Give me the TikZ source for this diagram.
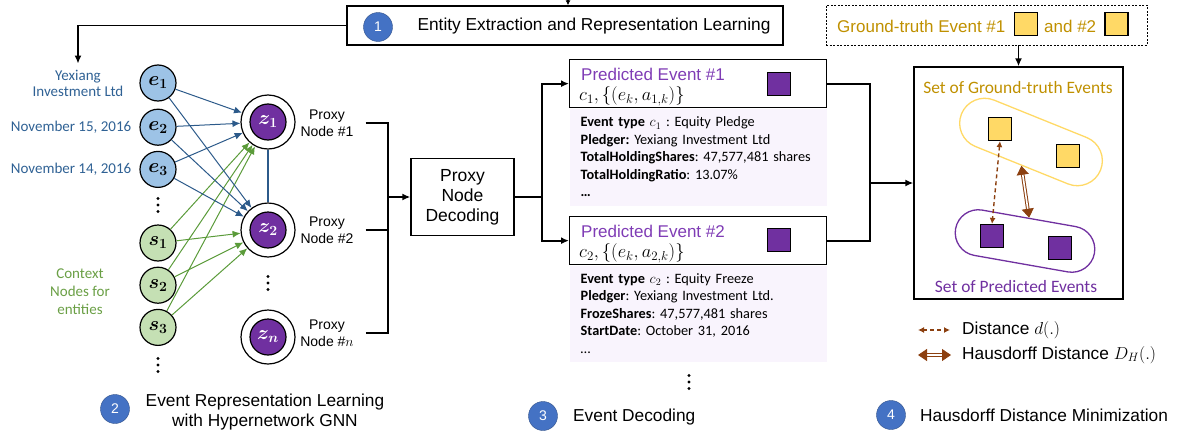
\RequirePackage{fix-cm}
\documentclass[tikz,border=0pt]{standalone}
\usepackage[no-math]{fontspec}
\usepackage{amsmath}
\setmainfont{Liberation Sans}
\newfontfamily\calibri{Carlito}
\usetikzlibrary{arrows.meta,positioning,calc,shapes}

\definecolor{entfill}{HTML}{9DC3E6}
\definecolor{entline}{HTML}{2C5A8A}
\definecolor{enttext}{HTML}{2F6194}
\definecolor{ctxfill}{HTML}{C5E0B4}
\definecolor{ctxline}{HTML}{5B9B3A}
\definecolor{ctxtext}{HTML}{6A9F45}
\definecolor{evpurple}{HTML}{7030A0}
\definecolor{evtitle}{HTML}{7F3CB5}
\definecolor{lavender}{HTML}{F9F4FD}
\definecolor{gtgold}{HTML}{BF9000}
\definecolor{gtyellow}{HTML}{FFD966}
\definecolor{distbrown}{HTML}{8C4010}
\definecolor{stepblue}{HTML}{4472C4}

\tikzset{
  entity/.style={circle, draw, line width=1.2pt, fill=entfill, minimum size=36pt, inner sep=0pt, font=\fontsize{20}{20}\selectfont\boldmath},
  context/.style={entity, fill=ctxfill},
  proxyring/.style={circle, draw, line width=1.2pt, fill=white, minimum size=54pt, inner sep=0pt},
  proxy/.style={circle, draw, line width=1.2pt, fill=evpurple, text=white, minimum size=36pt, inner sep=0pt, font=\fontsize{20}{20}\selectfont\boldmath},
  proxylabel/.style={align=center, inner xsep=12pt, font=\fontsize{14}{17}\selectfont},
  entlabel/.style={text=enttext, inner sep=0pt, align=center, font=\calibri\fontsize{15}{16}\selectfont},
  dots/.style={minimum width=4pt, minimum height=18pt, inner sep=0pt,
    path picture={\fill (path picture bounding box.center) circle (1.7pt) ++(0,6.5pt) circle (1.7pt) ++(0,-13pt) circle (1.7pt);}},
  entarrow/.style={entline, line width=1pt, -{Latex[length=8pt,width=7pt]}},
  ctxarrow/.style={ctxline, line width=1pt, -{Latex[length=8pt,width=7pt]}},
  conn/.style={line width=1.8pt},
  connarrow/.style={conn, -{Latex[length=8pt,width=7pt]}},
  stepnum/.style={circle, fill=stepblue, draw=stepblue!70!black, line width=0.4pt, text=white, minimum size=29pt, inner sep=0pt, font=\fontsize{14}{14}\selectfont},
  caption/.style={font=\fontsize{17.3}{20}\selectfont, align=center, inner sep=0pt},
  box/.style={draw, line width=1.3pt, inner sep=0pt},
  evsquare/.style={draw, line width=1.2pt, fill=evpurple, minimum size=23pt, inner sep=0pt},
  gtsquare/.style={evsquare, fill=gtyellow},
  evtext/.style={anchor=west, inner sep=0pt, font=\fontsize{17}{17}\selectfont},
  settext/.style={inner sep=0pt, font=\calibri\fontsize{17.4}{17.4}\selectfont},
  details/.style={fill=lavender, minimum width=257pt, text width=235pt, inner xsep=11pt, inner ysep=4pt, align=left, font=\calibri\fontsize{14.3}{17.5}\selectfont\frenchspacing},
  distarrow/.style={distbrown, line width=1.4pt, dash pattern=on 4pt off 3pt, {Latex[length=6pt,width=6pt]}-{Latex[length=6pt,width=6pt]}},
  hausarrow/.style={distbrown, line width=1pt, double=white, double distance=1.6pt, {Triangle[length=9pt,width=12pt]}-{Triangle[length=9pt,width=12pt]}},
}

\begin{document}
\begin{tikzpicture}[x=1pt,y=-1pt]
    \useasboundingbox (0,0) rectangle (1177,431);

    % step 1
    \node[box, minimum width=436pt, minimum height=39pt] (extract) at (565,25.5) {};
    \node[stepnum] (num1) at (378,27) {1};
    \node[caption] (extracttext) at (594,26) {Entity Extraction and Representation Learning};
    \coordinate (topin) at (568,0);
    \draw[line width=1.2pt, -{Latex[length=5pt,width=5pt]}] (topin) -- (topin |- extract.north);

    % entities and context nodes
    \node[entity] (e1) at (158,83) {$e_1$};
    \node[entity, below=7pt of e1] (e2) {$e_2$};
    \node[entity, below=5pt of e2] (e3) {$e_3$};
    \node[dots] (edots) at (158,205) {};
    \node[context] (s1) at (158,243) {$s_1$};
    \node[context, below=5pt of s1] (s2) {$s_2$};
    \node[context, below=5pt of s2] (s3) {$s_3$};
    \node[dots] (sdots) at (158,365) {};

    \node[entlabel] (lab1) at (78,83) {Yexiang\\Investment Ltd};
    \node[entlabel, left=8pt of e2] (lab2) {November 15, 2016};
    \node[entlabel, left=8pt of e3] (lab3) {November 14, 2016};
    \node[entlabel, text=ctxtext, font=\calibri\fontsize{15}{18}\selectfont] (ctxlab) at (80,292) {Context\\Nodes for\\entities};
    \draw[connarrow] (extract.west) -| ([yshift=6pt]lab1.north);

    % proxy nodes
    \node[proxyring] (z1) at (268,122) {};
    \node[proxy] (z1in) at (z1) {$z_1$};
    \node[proxyring] (z2) at (268,230) {};
    \node[proxy] (z2in) at (z2) {$z_2$};
    \node[dots] (zdots) at (268,283) {};
    \node[proxyring] (zn) at (268,337) {};
    \node[proxy] (znin) at (zn) {$z_n$};
    \node[proxylabel] (pl1) at (327,123) {Proxy\\Node \#1};
    \node[proxylabel] (pl2) at (327,230) {Proxy\\Node \#2};
    \node[proxylabel] (pln) at (327,333) {Proxy\\Node \#$n$};

    \draw[ctxarrow] (s1) -- (z1);
    \draw[ctxarrow] (s2) -- (z1);
    \draw[ctxarrow] (s3) -- (z1);
    \draw[ctxarrow] (s1) -- (z2);
    \draw[ctxarrow] (s2) -- (z2);
    \draw[ctxarrow] (s3) -- (z2);
    \draw[entarrow] (e1) -- (z1);
    \draw[entarrow] (e2) -- (z1);
    \draw[entarrow] (e3) -- (z1);
    \draw[entarrow] (e1) -- (z2);
    \draw[entarrow] (e2) -- (z2);
    \draw[entarrow] (e3) -- (z2);
    \draw[entline, line width=1.2pt] (z1) -- (z2);

    \node[stepnum] (num2) at (115,409) {2};
    \node[caption] (gnntext) at (265,412) {Event Representation Learning\\with Hypernetwork GNN};

    % decoding
    \node[box, minimum width=103pt, minimum height=77pt, align=center, font=\fontsize{17.5}{20}\selectfont] (decode) at (462.5,197) {Proxy\\Node\\Decoding};
    \coordinate (join1) at (388,197);
    \draw[conn] (pl1.east) -| (join1);
    \draw[conn] (pl2.east) -| (join1);
    \draw[conn] (pln.east) -| (join1);
    \draw[connarrow] (join1) -- (decode.west);

    \node[box, minimum width=257pt, minimum height=48pt, anchor=north west] (ev1) at (569,59) {};
    \node[evtext, text=evtitle] (ev1title) at (581,74) {Predicted Event \#1};
    \node[evtext, font=\fontsize{18.5}{18.5}\selectfont] (ev1math) at (579,96) {$c_1,\{(e_k,a_{1,k})\}$};
    \node[evsquare] (ev1sq) at (779,84) {};
    \node[details, minimum height=97pt, below=0pt of ev1] (det1) {\textbf{Event type} $c_1$ : Equity Pledge\\
        \textbf{Pledger:} Yexiang Investment Ltd\\
        \textbf{TotalHoldingShares}: 47,577,481 shares\\
        \textbf{TotalHoldingRatio}: 13.07\%\\
        \textbf{\ldots}};

    \node[box, minimum width=257pt, minimum height=48pt, anchor=north west] (ev2) at (569,216) {};
    \node[evtext, text=evtitle] (ev2title) at (581,231) {Predicted Event \#2};
    \node[evtext, font=\fontsize{18.5}{18.5}\selectfont] (ev2math) at (579,253) {$c_2,\{(e_k,a_{2,k})\}$};
    \node[evsquare] (ev2sq) at (779,240) {};
    \node[details, minimum height=96pt, below=0pt of ev2] (det2) {\textbf{Event type} $c_2$ : Equity Freeze\\
        \textbf{Pledger}: Yexiang Investment Ltd.\\
        \textbf{FrozeShares}: 47,577,481 shares\\
        \textbf{StartDate}: October 31, 2016\\
        \ldots};
    \node[dots] (evdots) at (689,382) {};

    \coordinate (split) at (542,197);
    \draw[conn] (decode.east) -- (split);
    \draw[connarrow] (split) |- (ev1.west);
    \draw[connarrow] (split) |- (ev2.west);

    \node[stepnum] (num3) at (543,416) {3};
    \node[caption, anchor=west] (dectext) at (573,417) {Event Decoding};

    % hausdorff distance
    \node[draw, line width=0.9pt, dash pattern=on 2pt off 1.5pt, minimum width=321pt, minimum height=40pt] (gtbox) at (986.5,25) {};
    \node[evtext, text=gtgold] (gttext1) at (837,26) {Ground-truth Event \#1};
    \node[gtsquare] (gtsq1) at (1026,24) {};
    \node[evtext, text=gtgold] (gttext2) at (1044,26) {and \#2};
    \node[gtsquare] (gtsq2) at (1116.5,24) {};

    \node[box, minimum width=209pt, minimum height=232pt] (hausbox) at (1018.5,183) {};
    \draw[connarrow] (gtbox.south -| hausbox.north) -- (hausbox.north);
    \coordinate (merge) at (870,183);
    \draw[conn] (ev1.east) -| (merge);
    \draw[conn] (ev2.east) -| (merge);
    \draw[connarrow] (merge) -- (hausbox.west);

    \node[settext, text=gtgold] (gtsettext) at (1018,88) {Set of Ground-truth Events};
    \node[draw=gtyellow, line width=1.3pt, rounded corners=25pt, minimum width=150pt, minimum height=50pt, rotate=-22] (gtset) at (1031,142) {};
    \node[gtsquare] (gt1) at (1000,129) {};
    \node[gtsquare] (gt2) at (1068,156) {};
    \node[draw=evpurple, line width=1.3pt, rounded corners=23pt, minimum width=141pt, minimum height=46pt, rotate=-10] (predset) at (1025,241) {};
    \node[evsquare] (pr1) at (992,236) {};
    \node[evsquare] (pr2) at (1060,248) {};
    \node[settext, text=evpurple] (predsettext) at (1016,287) {Set of Predicted Events};
    \draw[distarrow] (gt1.south) -- (pr1.north);
    \draw[hausarrow] (gtset.south) -- (predset.north);

    \node[caption, anchor=west] (lgdist) at (962,330) {Distance $d(.)$};
    \node[caption, anchor=west] (lghaus) at (962,355) {Hausdorff Distance $D_H(.)$};
    \draw[distarrow] ([xshift=-44pt]lgdist.west) -- ([xshift=-12pt]lgdist.west);
    \draw[hausarrow] ([xshift=-44pt]lghaus.west) -- ([xshift=-11pt]lghaus.west);

    \node[stepnum] (num4) at (891,415) {4};
    \node[caption, anchor=west] (haustext) at (920,415) {Hausdorff Distance Minimization};
\end{tikzpicture}
\end{document}
